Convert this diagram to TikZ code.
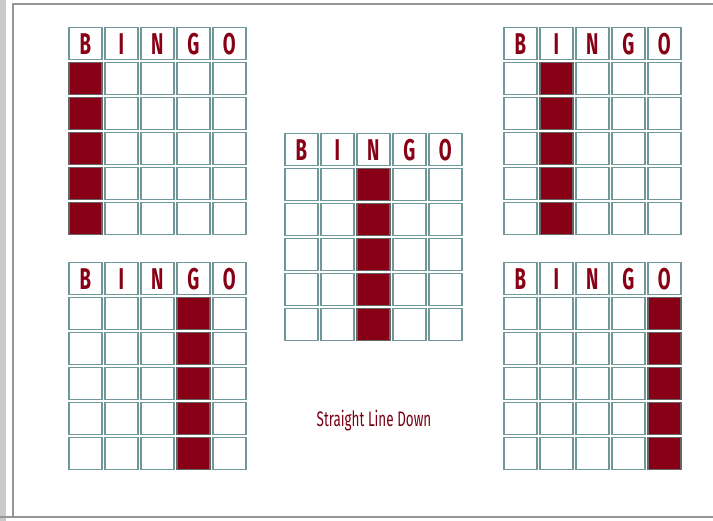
\documentclass[tikz,border=0pt]{standalone}
\usepackage{fontspec}
\setmainfont{Fira Sans}
\definecolor{bred}{RGB}{135,0,22}
\definecolor{cellline}{RGB}{112,152,152}
\definecolor{framegray}{RGB}{150,150,150}
\tikzset{
  cell/.style={draw=cellline, line width=1.5pt, fill=white, minimum width=33pt,
    minimum height=32pt, inner sep=0pt, anchor=north west},
  hit/.style={cell, fill=bred, draw=gray!80!black},
  letter/.style={text=bred, font=\bfseries\fontsize{30}{30}\selectfont},
  caption/.style={text=bred!90!black, font=\fontsize{21}{21}\selectfont}
}
\newcommand\bgrid[4]{%
  \foreach \c [count=\i] in {B,I,N,G,O} {
    \node[cell, letter] (#1-h\i) at ({#2+36*(\i-1)},{#3}) {\scalebox{0.62}[1]{\c}};
    \foreach \r in {1,...,5} {
      \ifnum\i=#4\relax
        \node[hit] (#1-\r-\i) at ({#2+36*(\i-1)},{#3+35*\r}) {};
      \else
        \node[cell] (#1-\r-\i) at ({#2+36*(\i-1)},{#3+35*\r}) {};
      \fi
    }
  }
}
\begin{document}
\begin{tikzpicture}[x=1pt,y=-1pt]
\useasboundingbox (0,0) rectangle (713,521);
\fill[white] (0,0) rectangle (713,521);
% frame
\fill[framegray!50] (0,0) rectangle (6,521);
\draw[framegray, line width=2.5pt] (13,4) -- (13,517);
\draw[framegray, line width=2.5pt] (12,4) -- (713,4);
\draw[framegray, line width=2.5pt] (0,517) -- (713,517);
% grids
\bgrid{ga}{68}{27}{1}
\bgrid{gb}{503}{27}{2}
\bgrid{gc}{284}{133}{3}
\bgrid{gd}{68}{262}{4}
\bgrid{ge}{503}{262}{5}
\node[caption] (cap) at (374,421) {\scalebox{0.64}[1]{Straight Line Down}};
\end{tikzpicture}
\end{document}
